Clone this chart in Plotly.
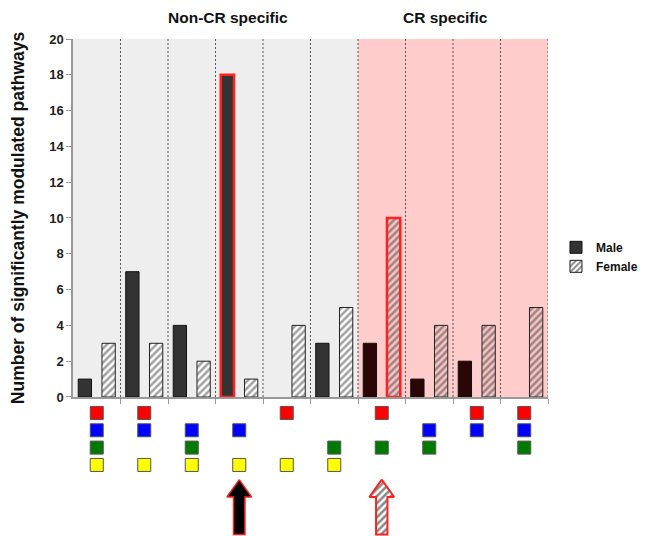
import plotly.graph_objects as go

# ---- data ----
groups = list(range(10))
male = [1, 7, 4, 18, 0, 3, 3, 1, 2, 0]
female = [3, 3, 2, 1, 4, 5, 10, 4, 4, 5]
region = ["non"] * 6 + ["cr"] * 4
cr20 = [1, 1, 0, 0, 1, 0, 1, 0, 1, 1]
cr40 = [1, 1, 1, 1, 0, 0, 0, 1, 1, 1]
if_ = [1, 0, 1, 0, 0, 1, 1, 1, 0, 1]
hfg = [1, 1, 1, 1, 1, 1, 0, 0, 0, 0]
diet_names = ["20% CR", "40% CR", "IF", "HFG"]
diet_colors = ["#ff0000", "#0000ff", "#007a00", "#ffff00"]
diet_rows = [4, 3, 2, 1]
highlight_male = 3
highlight_female = 6
yticks = list(range(0, 21, 2))

FONT = "Liberation Sans"

fig = go.Figure()

male_col = ["#333333" if r == "non" else "#2a0606" for r in region]
male_line = ["#ff2020" if i == highlight_male else "#111111" for i in groups]
male_lw = [2.5 if i == highlight_male else (1 if v > 0 else 0) for i, v in zip(groups, male)]
fig.add_trace(go.Bar(
    x=groups, y=male, name="Male", xaxis="x", yaxis="y",
    marker=dict(color=male_col, line=dict(color=male_line, width=male_lw)),
))
fem_bg = ["#ffffff" if r == "non" else "#f7c4c4" for r in region]
fem_line = ["#ff2020" if i == highlight_female else "#222222" for i in groups]
fem_lw = [2.5 if i == highlight_female else (1 if v > 0 else 0) for i, v in zip(groups, female)]
fig.add_trace(go.Bar(
    x=groups, y=female, name="Female", xaxis="x", yaxis="y",
    marker=dict(color=fem_bg, line=dict(color=fem_line, width=fem_lw),
                pattern=dict(shape="/", fgcolor="#111111", bgcolor=fem_bg,
                             size=5, solidity=0.5)),
))

# membership squares
members = [cr20, cr40, if_, hfg]
for name, col, row, mem in zip(diet_names, diet_colors, diet_rows, members):
    xs = [g for g, m in zip(groups, mem) if m]
    fig.add_trace(go.Scatter(
        x=xs, y=[row] * len(xs), mode="markers", xaxis="x", yaxis="y2",
        marker=dict(symbol="square", size=13, color=col,
                    line=dict(color="#555555", width=1)),
        showlegend=False, hoverinfo="skip",
    ))
    # legend square + label
    fig.add_trace(go.Scatter(
        x=[10.24], y=[row], mode="markers", xaxis="x", yaxis="y2",
        marker=dict(symbol="square", size=14, color=col,
                    line=dict(color="#555555", width=1)),
        showlegend=False, hoverinfo="skip", cliponaxis=False,
    ))
    fig.add_annotation(x=10.47, y=row, xref="x", yref="y2", text=name,
                       showarrow=False, xanchor="left",
                       font=dict(family=FONT, size=13, color="#111", weight="bold"))


def arrow(xc):
    hw, sw = 0.26, 0.12
    tip, base, bot = 0.15, -0.85, -3.02
    xs = [xc, xc + hw, xc + sw, xc + sw, xc - sw, xc - sw, xc - hw, xc]
    ys = [tip, base, base, bot, bot, base, base, tip]
    return xs, ys


ax, ay = arrow(highlight_male)
fig.add_trace(go.Scatter(
    x=ax, y=ay, mode="lines", fill="toself", fillcolor="#000000",
    line=dict(color="#ff2020", width=1.5), xaxis="x", yaxis="y2",
    showlegend=False, hoverinfo="skip",
))
ax, ay = arrow(highlight_female)
fig.add_trace(go.Scatter(
    x=ax, y=ay, mode="lines", fill="toself",
    fillpattern=dict(shape="/", fgcolor="#111111", bgcolor="#ffffff", size=5, solidity=0.5),
    line=dict(color="#ff2020", width=2), xaxis="x", yaxis="y2",
    showlegend=False, hoverinfo="skip",
))

# background regions and separators
n_non = region.count("non")
fig.add_shape(type="rect", xref="x", yref="y", x0=-0.5, x1=n_non - 0.5, y0=0, y1=20,
              fillcolor="#eeeeee", line_width=0, layer="below")
fig.add_shape(type="rect", xref="x", yref="y", x0=n_non - 0.5, x1=len(groups) - 0.5, y0=0, y1=20,
              fillcolor="#ffcccc", line_width=0, layer="below")
for b in [g + 0.5 for g in groups]:
    fig.add_shape(type="line", xref="x", yref="y", x0=b, x1=b, y0=0, y1=20,
                  line=dict(color="#555555", width=1, dash="2px,2px"), layer="below")

fig.add_annotation(x=2.77, y=1, yref="paper", xref="x", yshift=22, yanchor="middle",
                   text="Non-CR specific", showarrow=False,
                   font=dict(family=FONT, size=15.5, color="#111", weight="bold"))
fig.add_annotation(x=7.35, y=1, yref="paper", xref="x", yshift=22, yanchor="middle",
                   text="CR specific", showarrow=False,
                   font=dict(family=FONT, size=15.5, color="#111", weight="bold"))

fig.update_layout(
    width=640, height=528,
    margin=dict(l=65, r=100, t=31, b=0, autoexpand=False),
    paper_bgcolor="white", plot_bgcolor="white",
    barmode="group", bargap=0, bargroupgap=0.44,
    font=dict(family=FONT, size=12, color="#111"),
    xaxis=dict(range=[-0.5, 9.5], anchor="y", showgrid=False, zeroline=False,
               showline=True, linecolor="#999999", linewidth=1.5,
               tickvals=[g + 0.5 for g in groups], ticks="outside", ticklen=5,
               tickcolor="#999999", showticklabels=False),
    yaxis=dict(domain=[0.2797, 1], range=[0, 20], tickvals=yticks, ticks="outside",
               ticklen=5, tickcolor="#999999", showline=True, linecolor="#999999",
               linewidth=1.5, showgrid=False, zeroline=False,
               tickfont=dict(family=FONT, size=13, color="#222", weight="bold"),
               title=dict(text="Number of significantly modulated pathways", standoff=21,
                          font=dict(family=FONT, size=17.5, color="#111", weight="bold"))),
    yaxis2=dict(domain=[0, 0.2797], range=[-3.1, 4.92], visible=False, anchor="x"),
    legend=dict(x=1.0168, xanchor="left", y=0.61, yanchor="top",
                font=dict(family=FONT, size=12, color="#111", weight="bold"),
                bgcolor="rgba(0,0,0,0)", borderwidth=0),
    showlegend=True,
)

fig.write_html("out.html")
